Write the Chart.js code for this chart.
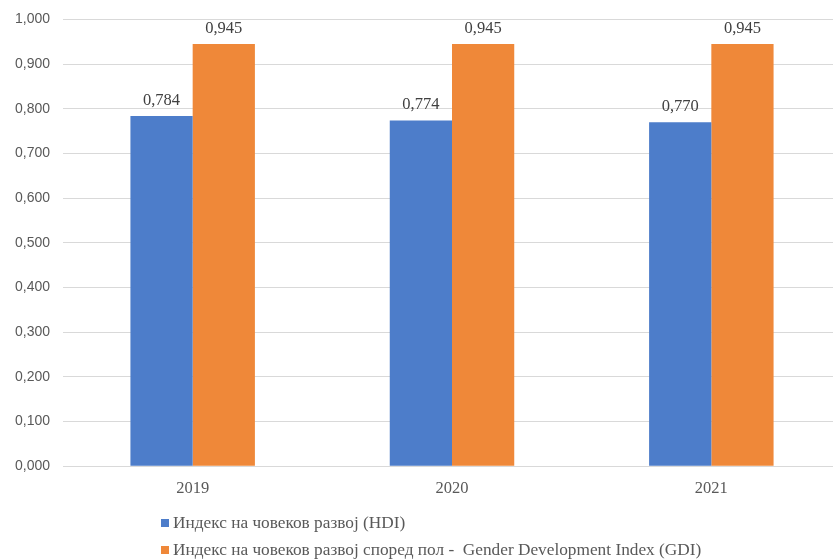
<!DOCTYPE html>
<html>
<head>
<meta charset="utf-8">
<script src="https://cdn.jsdelivr.net/npm/chart.js@4/dist/chart.umd.min.js"></script>
<style>
  html, body { margin: 0; padding: 0; background: #fff; overflow: hidden; }
  #wrap { position: relative; width: 841px; height: 559px; overflow: hidden; }
  #chartBox { position: absolute; left: 0; top: -2px; width: 841px; height: 514px; }
  #legend { position: absolute; left: 161px; top: 511px; font-family: "Liberation Serif", serif; font-size: 17.3px; color: #595959; }
  #legend div { height: 27px; line-height: 23px; white-space: pre; }
  #legend span.box { display: inline-block; width: 8px; height: 8px; margin-right: 4px; vertical-align: 1px; }
</style>
</head>
<body>
<div id="wrap">
  <div id="chartBox"><canvas id="barChart"></canvas></div>
  <div id="legend"></div>
</div>
<script>
const years = ["2019", "2020", "2021"];
const hdiValues = [0.784, 0.774, 0.770];
const gdiValues = [0.945, 0.945, 0.945];
const seriesLabels = [
  "Индекс на човеков развој (HDI)",
  "Индекс на човеков развој според пол -  Gender Development Index (GDI)"
];
const yTicks = [0, 0.1, 0.2, 0.3, 0.4, 0.5, 0.6, 0.7, 0.8, 0.9, 1.0];

const fmt = (v) => v.toFixed(3).replace(".", ",");

// value labels over the bars
const barLabels = {
  id: "barLabels",
  afterDatasetsDraw(chart) {
    const ctx = chart.ctx;
    ctx.save();
    ctx.font = "16.5px 'Liberation Serif', serif";
    ctx.fillStyle = "#404040";
    ctx.textAlign = "center";
    ctx.textBaseline = "bottom";
    chart.data.datasets.forEach((ds, i) => {
      chart.getDatasetMeta(i).data.forEach((bar, j) => {
        ctx.fillText(fmt(ds.data[j]), bar.x, bar.y - 7);
      });
    });
    ctx.restore();
  }
};

const data = {
  labels: years,
  datasets: [
    {
      label: seriesLabels[0],
      data: hdiValues,
      backgroundColor: "#4d7dca"
    },
    {
      label: seriesLabels[1],
      data: gdiValues,
      backgroundColor: "#ef8839"
    }
  ]
};

const config = {
  type: "bar",
  data: data,
  options: {
    responsive: true,
    maintainAspectRatio: false,
    animation: false,
    categoryPercentage: 0.48,
    barPercentage: 1.0,
    layout: { padding: { top: 16, left: 0, right: 0, bottom: 0 } },
    plugins: {
      legend: { display: false },
      tooltip: { enabled: false }
    },
    scales: {
      x: {
        grid: { display: false, drawTicks: false },
        border: { color: "#d9d9d9", width: 1 },
        ticks: {
          color: "#595959",
          padding: 13,
          font: { family: "'Liberation Serif', serif", size: 16.5 }
        }
      },
      y: {
        min: 0,
        max: 1,
        afterBuildTicks(axis) {
          axis.ticks = yTicks.map((v) => ({ value: v }));
        },
        afterFit(axis) { axis.width = 63; },
        grid: { color: "#d9d9d9", drawTicks: false },
        border: { display: false },
        ticks: {
          color: "#595959",
          padding: 13,
          font: { family: "'Liberation Sans', sans-serif", size: 14 },
          callback: (v) => fmt(v)
        }
      }
    }
  },
  plugins: [barLabels]
};

const chart = new Chart(document.getElementById("barChart"), config);

const legendEl = document.getElementById("legend");
chart.data.datasets.forEach((ds) => {
  const row = document.createElement("div");
  const box = document.createElement("span");
  box.className = "box";
  box.style.background = ds.backgroundColor;
  row.appendChild(box);
  row.appendChild(document.createTextNode(ds.label));
  legendEl.appendChild(row);
});
</script>
</body>
</html>
